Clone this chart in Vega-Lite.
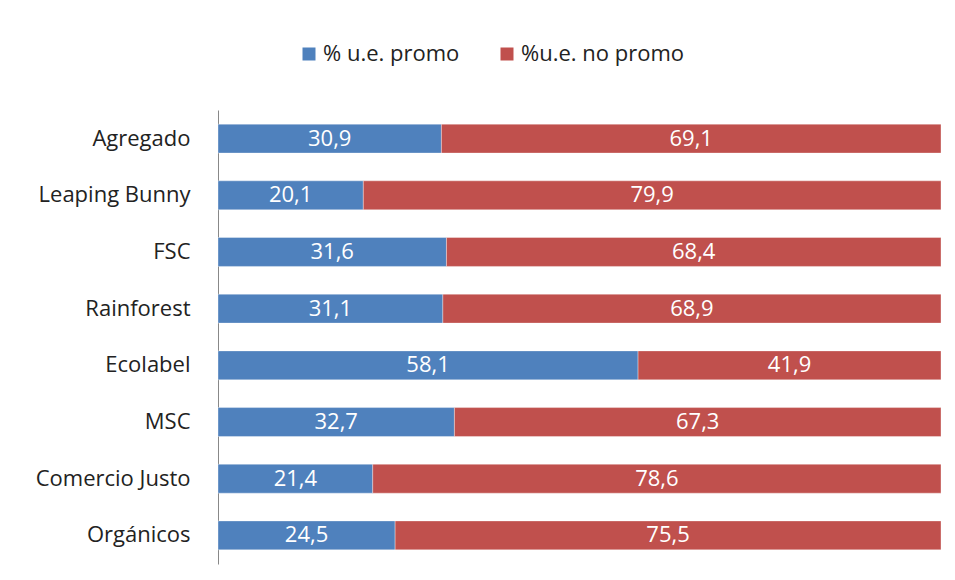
{
  "$schema": "https://vega.github.io/schema/vega-lite/v6.json",
  "width": 723,
  "height": 454,
  "autosize": "none",
  "padding": {"left": 218, "top": 110, "right": 14, "bottom": 16},
  "background": "white",
  "config": {
    "view": {"stroke": null},
    "font": "Open Sans",
    "locale": {"number": {"decimal": ",", "thousands": ".", "grouping": [3], "currency": ["", " €"]}}
  },
  "data": {
    "values": [
      {"cat": "Agregado", "serie": "% u.e. promo", "value": 30.9},
      {"cat": "Agregado", "serie": "%u.e. no promo", "value": 69.1},
      {"cat": "Leaping Bunny", "serie": "% u.e. promo", "value": 20.1},
      {"cat": "Leaping Bunny", "serie": "%u.e. no promo", "value": 79.9},
      {"cat": "FSC", "serie": "% u.e. promo", "value": 31.6},
      {"cat": "FSC", "serie": "%u.e. no promo", "value": 68.4},
      {"cat": "Rainforest", "serie": "% u.e. promo", "value": 31.1},
      {"cat": "Rainforest", "serie": "%u.e. no promo", "value": 68.9},
      {"cat": "Ecolabel", "serie": "% u.e. promo", "value": 58.1},
      {"cat": "Ecolabel", "serie": "%u.e. no promo", "value": 41.9},
      {"cat": "MSC", "serie": "% u.e. promo", "value": 32.7},
      {"cat": "MSC", "serie": "%u.e. no promo", "value": 67.3},
      {"cat": "Comercio Justo", "serie": "% u.e. promo", "value": 21.4},
      {"cat": "Comercio Justo", "serie": "%u.e. no promo", "value": 78.6},
      {"cat": "Orgánicos", "serie": "% u.e. promo", "value": 24.5},
      {"cat": "Orgánicos", "serie": "%u.e. no promo", "value": 75.5}
    ]
  },
  "transform": [
    {"stack": "value", "groupby": ["cat"], "sort": [{"field": "serie", "order": "ascending"}], "as": ["x0", "x1"]}
  ],
  "encoding": {
    "y": {
      "field": "cat",
      "type": "nominal",
      "sort": ["Agregado", "Leaping Bunny", "FSC", "Rainforest", "Ecolabel", "MSC", "Comercio Justo", "Orgánicos"],
      "scale": {"paddingInner": 0.49, "paddingOuter": 0.25},
      "axis": {
        "title": null,
        "ticks": false,
        "domainColor": "#888888",
        "domainWidth": 1,
        "labelFontSize": 22,
        "labelColor": "#222222",
        "labelPadding": 28,
        "labelFont": "Open Sans",
        "labelLimit": 300
      }
    }
  },
  "layer": [
    {
      "mark": {"type": "bar", "stroke": "white", "strokeOpacity": 0.35, "strokeWidth": 1},
      "encoding": {
        "x": {"field": "x0", "type": "quantitative", "scale": {"domain": [0, 100], "nice": false}, "axis": null},
        "x2": {"field": "x1"},
        "color": {
          "field": "serie",
          "type": "nominal",
          "scale": {"domain": ["% u.e. promo", "%u.e. no promo"], "range": ["#4F81BD", "#C0504D"]},
          "legend": {
            "title": null,
            "orient": "none",
            "direction": "horizontal",
            "legendX": 80,
            "legendY": -67,
            "symbolType": "square",
            "symbolSize": 169,
            "symbolStrokeWidth": 0,
            "labelFontSize": 22,
            "labelColor": "#222222",
            "labelFont": "Open Sans",
            "labelOffset": 3,
            "labelLimit": 300,
            "columnPadding": 36,
            "padding": 0
          }
        }
      }
    },
    {
      "transform": [
        {"fold": ["x0", "x1"], "as": ["edge", "pos"]},
        {"aggregate": [{"op": "mean", "field": "pos", "as": "mid"}, {"op": "max", "field": "value", "as": "value"}], "groupby": ["cat", "serie"]}
      ],
      "mark": {"type": "text", "color": "white", "fontSize": 22, "font": "Open Sans", "baseline": "middle", "align": "center"},
      "encoding": {
        "x": {"field": "mid", "type": "quantitative", "scale": {"domain": [0, 100], "nice": false}},
        "text": {"field": "value", "type": "quantitative", "format": ".1f"}
      }
    }
  ]
}
